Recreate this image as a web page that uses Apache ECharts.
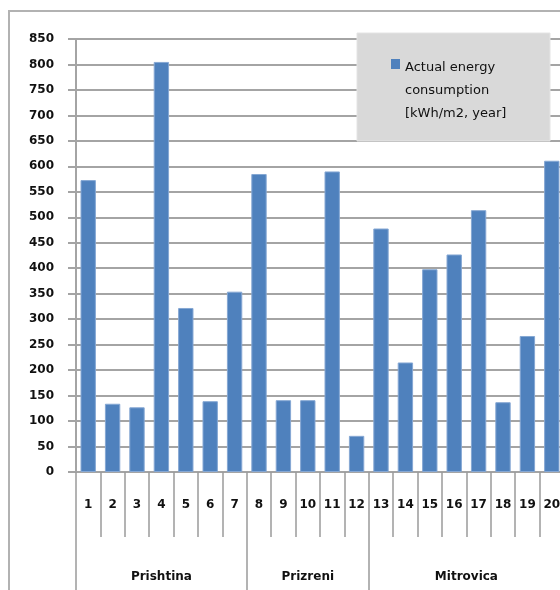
<!DOCTYPE html>
<html>
<head>
<meta charset="utf-8">
<script src="https://cdn.jsdelivr.net/npm/echarts@6/dist/echarts.min.js"></script>
<style>
  html, body { margin: 0; padding: 0; background: #fff; overflow: hidden; }
  #wrap { width: 560px; height: 590px; overflow: hidden; position: relative; }
  #chart { width: 600px; height: 590px; position: absolute; left: 0; top: 0; }
</style>
</head>
<body>
<div id="wrap"><div id="chart"></div></div>
<script>
// Buildings numbered 1..20, grouped by city
const buildings = ['1','2','3','4','5','6','7','8','9','10','11','12','13','14','15','16','17','18','19','20'];
const consumption = [573, 134, 127, 805, 322, 139, 354, 585, 141, 141, 590, 71, 478, 215, 398, 427, 514, 137, 267, 611];
const cityNames = ['Prishtina', 'Prizreni', 'Mitrovica'];
const citySizes = [7, 5, 8];
const seriesName = 'Actual energy\nconsumption\n[kWh/m2, year]';
const yTicks = { min: 0, max: 850, step: 50 };

// Group axis uses half-category steps so that group centres and borders fall on points
const halfSteps = buildings.length * 2;
const groupLabels = new Array(halfSteps + 1).fill('');
const groupBorders = new Set([0]);
let acc = 0;
cityNames.forEach((name, i) => {
  const start = acc * 2, end = (acc + citySizes[i]) * 2;
  groupLabels[(start + end) / 2] = name;
  groupBorders.add(end);
  acc += citySizes[i];
});

const font = 'DejaVu Sans';
const gridColor = '#a4a4a4';

const chart = echarts.init(document.getElementById('chart'), null, { renderer: 'canvas' });
chart.setOption({
  animation: false,
  grid: { left: 76, top: 39, width: 488, height: 433, containLabel: false },
  xAxis: [
    {
      type: 'category',
      data: buildings,
      position: 'bottom',
      axisLine: { show: true, lineStyle: { color: gridColor, width: 1.5 } },
      axisTick: { show: true, length: 65, lineStyle: { color: '#9a9a9a', width: 1.5 } },
      axisLabel: { color: '#111', fontFamily: font, fontSize: 12, fontWeight: 'bold', margin: 27, interval: 0 },
      splitLine: { show: false }
    },
    {
      type: 'category',
      data: groupLabels,
      boundaryGap: false,
      position: 'bottom',
      axisLine: { show: false },
      axisTick: {
        show: true, length: 140,
        interval: (idx) => groupBorders.has(idx),
        lineStyle: { color: '#9a9a9a', width: 1.5 }
      },
      axisLabel: {
        color: '#111', fontFamily: font, fontSize: 12, fontWeight: 'bold', margin: 99,
        interval: (idx, val) => val !== ''
      },
      splitLine: { show: false }
    }
  ],
  yAxis: {
    type: 'value',
    min: yTicks.min, max: yTicks.max, interval: yTicks.step,
    axisLine: { show: true, lineStyle: { color: gridColor, width: 2 } },
    axisTick: { show: true, length: 8, lineStyle: { color: gridColor, width: 2 } },
    axisLabel: { color: '#111', fontFamily: font, fontSize: 12, fontWeight: 'bold', margin: 22 },
    splitLine: { show: true, lineStyle: { color: gridColor, width: 2 } }
  },
  series: [{
    name: seriesName,
    type: 'bar',
    xAxisIndex: 0,
    data: consumption,
    barCategoryGap: '37%',
    itemStyle: { color: '#4f81bd', borderColor: '#86a8d4', borderWidth: 1 }
  }],
  graphic: [
    // outer chart frame
    { type: 'rect', shape: { x: 9, y: 11, width: 800, height: 800 },
      style: { fill: 'none', stroke: '#b2b2b2', lineWidth: 2 }, z: 0 },
    // legend box
    { type: 'rect', shape: { x: 357, y: 33, width: 193, height: 108 },
      style: { fill: '#d9d9d9', stroke: '#e4e4e4', lineWidth: 1 }, z: 10 },
    { type: 'rect', shape: { x: 391, y: 59, width: 9, height: 10 },
      style: { fill: '#4f81bd' }, z: 11 },
    { type: 'text', x: 405, y: 56,
      style: { text: seriesName, fill: '#111', font: '13px "DejaVu Sans"', lineHeight: 23 }, z: 11 }
  ]
});
</script>
</body>
</html>
